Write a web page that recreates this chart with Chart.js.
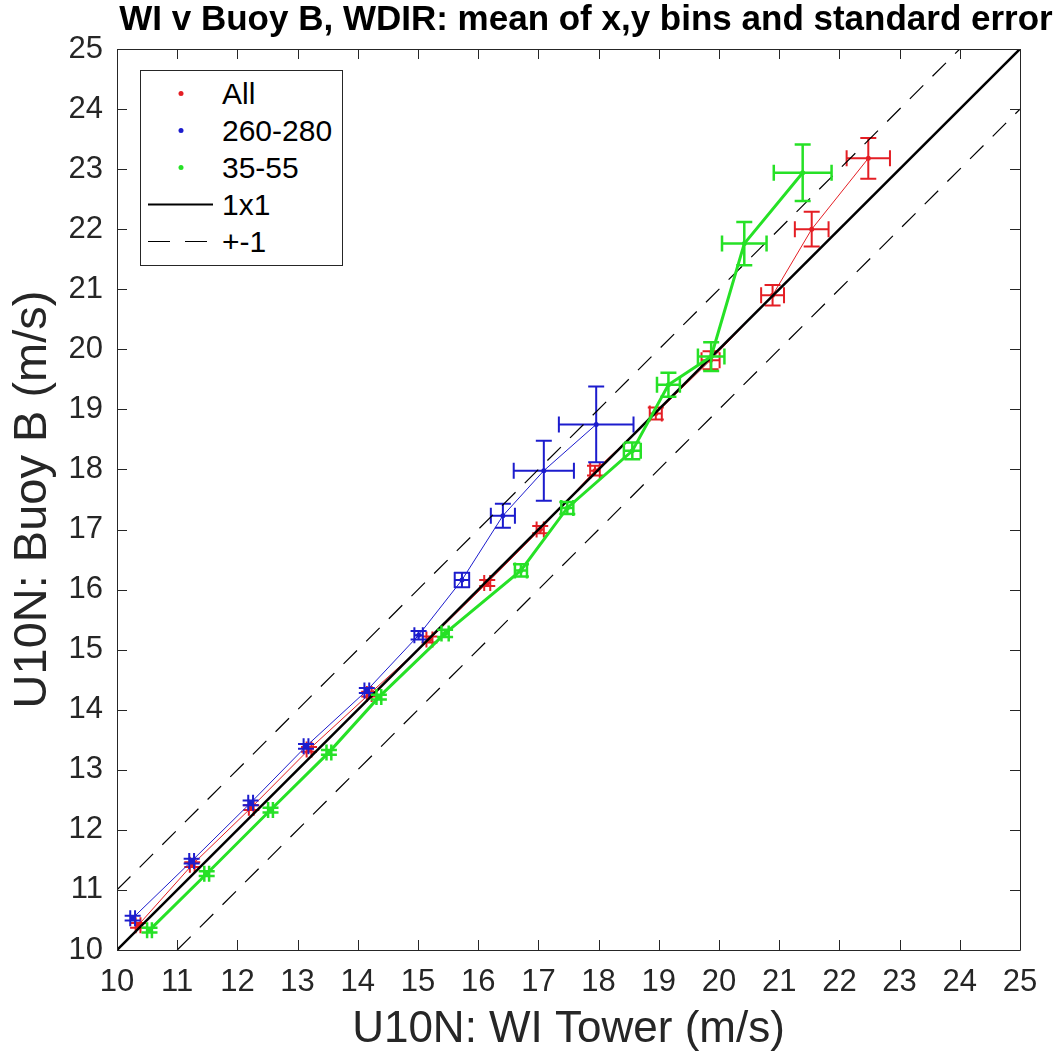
<!DOCTYPE html>
<html>
<head>
<meta charset="utf-8">
<script src="https://cdn.jsdelivr.net/npm/chart.js@4.4.1/dist/chart.umd.min.js"></script>
<style>
  body { margin: 0; background: #fff; }
  #wrap { position: relative; width: 1061px; height: 1056px; }
  #legend {
    position: absolute; left: 140px; top: 70px; width: 201px; height: 190px;
    border: 1px solid #262626; background: #fff; padding-top: 4px; box-sizing: content-box;
    font-family: "Liberation Sans", Arial, sans-serif; font-size: 30px; color: #000;
  }
  #legend .row { display: flex; align-items: center; height: 37px; }
  #legend svg { flex: none; }
  #legend span { margin-left: 7px; }
</style>
</head>
<body>
<div id="wrap">
  <canvas id="chart" width="1061" height="1056"></canvas>
  <div id="legend"></div>
</div>
<script>
'use strict';

const chartTitle = 'WI v Buoy B, WDIR: mean of x,y bins and standard error';
const xTitle = 'U10N: WI Tower (m/s)';
const yTitle = 'U10N: Buoy B (m/s)';
const axisMin = 10;
const axisMax = 25;

// All
const allX = [10.35, 11.25, 12.23, 13.19, 14.19, 15.19, 16.15, 17.03, 17.94, 18.95, 19.86, 20.89, 21.54, 22.48];
const allY = [10.41, 11.42, 12.37, 13.34, 14.26, 15.17, 16.11, 17.00, 17.98, 18.93, 19.82, 20.90, 22.00, 23.18];
const allErrX = [0.04, 0.04, 0.04, 0.04, 0.04, 0.05, 0.05, 0.06, 0.08, 0.10, 0.15, 0.19, 0.28, 0.36];
const allErrY = [0.04, 0.04, 0.04, 0.04, 0.04, 0.05, 0.05, 0.06, 0.08, 0.10, 0.15, 0.17, 0.29, 0.34];

// 260-280
const westX = [10.26, 11.24, 12.22, 13.14, 14.15, 15.01, 15.73, 16.41, 17.09, 17.96];
const westY = [10.53, 11.48, 12.45, 13.39, 14.32, 15.24, 16.16, 17.23, 17.98, 18.75];
const westErrX = [0.04, 0.04, 0.04, 0.04, 0.04, 0.07, 0.12, 0.20, 0.50, 0.62];
const westErrY = [0.04, 0.04, 0.04, 0.04, 0.04, 0.07, 0.12, 0.20, 0.50, 0.63];

// 35-55
const northX = [10.54, 11.49, 12.55, 13.52, 14.35, 15.45, 16.71, 17.48, 18.56, 19.16, 19.87, 20.42, 21.39];
const northY = [10.33, 11.27, 12.33, 13.29, 14.21, 15.27, 16.32, 17.36, 18.31, 19.41, 19.88, 21.76, 22.94];
const northErrX = [0.04, 0.04, 0.04, 0.04, 0.04, 0.06, 0.10, 0.10, 0.14, 0.19, 0.22, 0.37, 0.48];
const northErrY = [0.04, 0.04, 0.04, 0.04, 0.04, 0.06, 0.10, 0.10, 0.14, 0.20, 0.24, 0.36, 0.47];

// reference lines
const oneX = [10, 25];
const oneY = [10, 25];
const plusX = [10, 24];
const plusY = [11, 25];
const minusX = [11, 25];
const minusY = [10, 24];

const legendLabels = ['All', '260-280', '35-55', '1x1', '+-1'];

const red = 'rgb(228, 30, 36)';
const blue = 'rgb(28, 28, 205)';
const green = 'rgb(38, 225, 38)';

function toPoints(xs, ys) {
  return xs.map((x, i) => ({ x: x, y: ys[i] }));
}

Chart.defaults.font.family = '"Liberation Sans", Arial, sans-serif';
Chart.defaults.color = '#262626';

// error bars drawn with the scales, after each dataset
const errorBars = {
  id: 'errorBars',
  afterDatasetDraw(chart, args) {
    const ds = chart.data.datasets[args.index];
    if (!ds.errX) return;
    const { ctx, chartArea: a, scales: { x, y } } = chart;
    const cap = 8;
    ctx.save();
    ctx.beginPath();
    ctx.rect(a.left, a.top, a.right - a.left, a.bottom - a.top);
    ctx.clip();
    ctx.strokeStyle = ds.borderColor;
    ctx.lineWidth = ds.errWidth;
    ctx.beginPath();
    ds.data.forEach((p, i) => {
      const cx = x.getPixelForValue(p.x);
      const cy = y.getPixelForValue(p.y);
      const x0 = x.getPixelForValue(p.x - ds.errX[i]);
      const x1 = x.getPixelForValue(p.x + ds.errX[i]);
      const y0 = y.getPixelForValue(p.y - ds.errY[i]);
      const y1 = y.getPixelForValue(p.y + ds.errY[i]);
      ctx.moveTo(x0, cy); ctx.lineTo(x1, cy);
      ctx.moveTo(x0, cy - cap); ctx.lineTo(x0, cy + cap);
      ctx.moveTo(x1, cy - cap); ctx.lineTo(x1, cy + cap);
      ctx.moveTo(cx, y0); ctx.lineTo(cx, y1);
      ctx.moveTo(cx - cap, y0); ctx.lineTo(cx + cap, y0);
      ctx.moveTo(cx - cap, y1); ctx.lineTo(cx + cap, y1);
    });
    ctx.stroke();
    ctx.restore();
  }
};

// box round the plot with inward ticks, and the title
const frame = {
  id: 'frame',
  afterDraw(chart) {
    const { ctx, chartArea: a, scales: { x, y } } = chart;
    const len = 10;
    ctx.save();
    ctx.strokeStyle = '#262626';
    ctx.lineWidth = 1;
    ctx.beginPath();
    ctx.rect(Math.round(a.left) + 0.5, Math.round(a.top) + 0.5,
      Math.round(a.right - a.left), Math.round(a.bottom - a.top));
    x.ticks.forEach(t => {
      const px = Math.round(x.getPixelForValue(t.value)) + 0.5;
      ctx.moveTo(px, a.bottom); ctx.lineTo(px, a.bottom - len);
      ctx.moveTo(px, a.top); ctx.lineTo(px, a.top + len);
    });
    y.ticks.forEach(t => {
      const py = Math.round(y.getPixelForValue(t.value)) + 0.5;
      ctx.moveTo(a.left, py); ctx.lineTo(a.left + len, py);
      ctx.moveTo(a.right, py); ctx.lineTo(a.right - len, py);
    });
    ctx.stroke();

    ctx.fillStyle = '#000';
    ctx.font = 'bold 35px "Liberation Sans", Arial, sans-serif';
    ctx.textAlign = 'center';
    ctx.textBaseline = 'alphabetic';
    ctx.fillText(chartTitle, 586, 30);
    ctx.restore();
  }
};

const ctx = document.getElementById('chart');

new Chart(ctx, {
  type: 'scatter',
  data: {
    datasets: [
      {
        label: legendLabels[0], data: toPoints(allX, allY), showLine: true,
        borderColor: red, borderWidth: 1, pointRadius: 2.5, pointBackgroundColor: red,
        pointBorderWidth: 0, errX: allErrX, errY: allErrY, errWidth: 2, order: 4
      },
      {
        label: legendLabels[1], data: toPoints(westX, westY), showLine: true,
        borderColor: blue, borderWidth: 1, pointRadius: 2.5, pointBackgroundColor: blue,
        pointBorderWidth: 0, errX: westErrX, errY: westErrY, errWidth: 2, order: 3
      },
      {
        label: legendLabels[2], data: toPoints(northX, northY), showLine: true,
        borderColor: green, borderWidth: 3, pointRadius: 2.5, pointBackgroundColor: green,
        pointBorderWidth: 0, errX: northErrX, errY: northErrY, errWidth: 2.5, order: 0
      },
      {
        label: legendLabels[3], data: toPoints(oneX, oneY), showLine: true,
        borderColor: '#000', borderWidth: 2.5, pointRadius: 0, order: 1
      },
      {
        label: legendLabels[4], data: toPoints(plusX, plusY), showLine: true,
        borderColor: '#000', borderWidth: 1.2, borderDash: [19, 13], pointRadius: 0, order: 2
      },
      {
        label: legendLabels[4], data: toPoints(minusX, minusY), showLine: true,
        borderColor: '#000', borderWidth: 1.2, borderDash: [19, 13], pointRadius: 0, order: 2
      }
    ]
  },
  options: {
    responsive: false,
    animation: false,
    layout: { padding: { top: 49, right: 41, left: 0, bottom: 0 } },
    plugins: {
      legend: { display: false },
      tooltip: { enabled: false }
    },
    scales: {
      x: {
        type: 'linear', min: axisMin, max: axisMax,
        ticks: { stepSize: 1, autoSkip: false, maxRotation: 0, padding: 14, font: { size: 31 } },
        grid: { display: false, drawTicks: false },
        border: { display: false },
        title: { display: true, text: xTitle, font: { size: 44 }, padding: { top: 0, bottom: 0 } },
        afterFit(scale) { scale.height = 106; }
      },
      y: {
        type: 'linear', min: axisMin, max: axisMax,
        ticks: { stepSize: 1, autoSkip: false, padding: 14, font: { size: 31 } },
        grid: { display: false, drawTicks: false },
        border: { display: false },
        title: { display: true, text: yTitle, font: { size: 47 }, padding: { top: 5, bottom: 0 } },
        afterFit(scale) { scale.width = 117; }
      }
    }
  },
  plugins: [errorBars, frame]
});

// legend box
const legendDiv = document.getElementById('legend');
const legendColors = [red, blue, green];
legendLabels.forEach((label, i) => {
  let svg;
  if (i < 3) {
    svg = `<svg width="74" height="37"><circle cx="40" cy="18.5" r="2.5" fill="${legendColors[i]}"/></svg>`;
  } else if (i === 3) {
    svg = '<svg width="74" height="37"><line x1="7" y1="18.5" x2="72" y2="18.5" stroke="#000" stroke-width="2"/></svg>';
  } else {
    svg = '<svg width="74" height="37"><line x1="7" y1="18.5" x2="72" y2="18.5" stroke="#000" stroke-width="1.2" stroke-dasharray="22 15"/></svg>';
  }
  const row = document.createElement('div');
  row.className = 'row';
  row.innerHTML = svg + `<span>${label}</span>`;
  legendDiv.appendChild(row);
});
</script>
</body>
</html>
